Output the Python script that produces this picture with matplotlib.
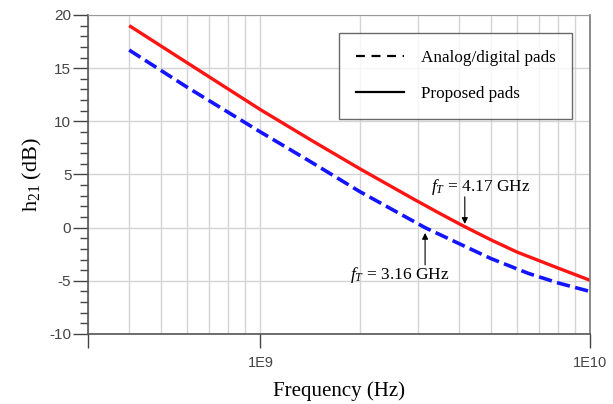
import numpy as np
import matplotlib
matplotlib.use("Agg")
import matplotlib.pyplot as plt

# ========================================
# data (Hz, dB)
# ========================================
freq_proposed = [4e8, 6e8, 1e9, 1.42e9, 2.0e9, 2.9e9, 3.5e9, 4.15e9, 5.0e9, 6.0e9, 8.0e9, 1e10]
h21_proposed = [19.0, 15.5, 11.1, 8.26, 5.55, 2.73, 1.34, 0.12, -1.14, -2.29, -3.8, -4.95]

freq_analog = [4e8, 6e8, 1e9, 1.42e9, 2.0e9, 3.16e9, 5.0e9, 6.5e9, 8.0e9, 1e10]
h21_analog = [16.7, 13.2, 9.0, 6.2, 3.4, 0.0, -2.9, -4.3, -5.2, -6.0]

labels = ["Analog/digital pads", "Proposed pads"]
ft_proposed = 4.17e9
ft_analog = 3.16e9

plt.rcParams["axes.unicode_minus"] = False
plt.rcParams["mathtext.fontset"] = "custom"
plt.rcParams["mathtext.rm"] = "Liberation Serif"
plt.rcParams["mathtext.it"] = "Liberation Serif:italic"

fig = plt.figure(figsize=(6.13, 4.04), dpi=100)
ax = fig.add_axes([0.1436, 0.1733, 0.8189, 0.7896])

ax.plot(freq_proposed, h21_proposed, color="#ff1414", lw=2.4, solid_capstyle="butt")
ax.plot(freq_analog, h21_analog, color="#1414ff", lw=2.6, dashes=(3.7, 1.5))

ax.set_xscale("log")
ax.set_xlim(3e8, 1e10)
ax.set_ylim(-10, 20)

# grid
ax.set_xticks([3e8, 1e9, 1e10])
ax.set_xticklabels(["", "1E9", "1E10"])
ax.set_xticks([4e8, 5e8, 6e8, 7e8, 8e8, 9e8] + [k * 1e9 for k in range(2, 10)], minor=True)
ax.set_xticklabels([], minor=True)
ax.set_yticks(np.arange(-10, 21, 5))
ax.set_yticks(np.arange(-10, 21, 1), minor=True)
ax.grid(True, which="both", axis="x", color="#d4d4d4", lw=1.0)
ax.grid(True, which="major", axis="y", color="#d4d4d4", lw=1.0)
ax.set_axisbelow(True)

ax.tick_params(axis="x", which="major", direction="out", length=10, width=1, color="#444444",
               labelsize=10.5, labelcolor="#444444", pad=6)
ax.tick_params(axis="x", which="minor", length=0)
ax.tick_params(axis="y", which="major", direction="out", length=11, width=1, color="#444444",
               labelsize=11, labelcolor="#444444", pad=1)
ax.tick_params(axis="y", which="minor", direction="out", length=6, width=1, color="#444444")
for lab in ax.get_xticklabels() + ax.get_yticklabels():
    lab.set_family("Liberation Sans")

for side in ["left", "bottom"]:
    ax.spines[side].set_color("#555555")
    ax.spines[side].set_linewidth(1.2)
ax.spines["top"].set_color("#999999")
ax.spines["right"].set_color("#777777")
ax.spines["right"].set_linewidth(1.2)

ax.set_xlabel("Frequency (Hz)", fontfamily="Liberation Serif", fontsize=15, labelpad=8)
ax.set_ylabel("h$_{21}$ (dB)", fontfamily="Liberation Serif", fontsize=16, labelpad=4)

# legend with black proxy lines
h1, = ax.plot([], [], color="black", lw=1.6, dashes=(4, 3))
h2, = ax.plot([], [], color="black", lw=1.6)
leg = ax.legend([h1, h2], labels, loc="upper right", bbox_to_anchor=(0.965, 0.943),
                prop={"family": "Liberation Serif", "size": 12.3}, frameon=True, fancybox=False,
                edgecolor="#444444", handlelength=2.8, handletextpad=1.0, borderpad=1.0,
                labelspacing=1.15, borderaxespad=0)
leg.get_frame().set_linewidth(1.0)

# fT annotations: label text plus vertical arrow
ax.text(3.3e9, 3.85, "$f_T$ = 4.17 GHz", ha="left", va="center",
        fontfamily="Liberation Serif", fontsize=12.5)
ax.annotate("", xy=(ft_proposed, 0.35), xytext=(ft_proposed, 2.9),
            arrowprops=dict(arrowstyle="-|>", color="black", lw=0.8, mutation_scale=9,
                            shrinkA=0, shrinkB=0))
ax.text(1.87e9, -4.45, "$f_T$ = 3.16 GHz", ha="left", va="center",
        fontfamily="Liberation Serif", fontsize=12.5)
ax.annotate("", xy=(ft_analog, -0.5), xytext=(ft_analog, -3.5),
            arrowprops=dict(arrowstyle="-|>", color="black", lw=0.8, mutation_scale=9,
                            shrinkA=0, shrinkB=0))

fig.savefig("out.png", dpi=100)
